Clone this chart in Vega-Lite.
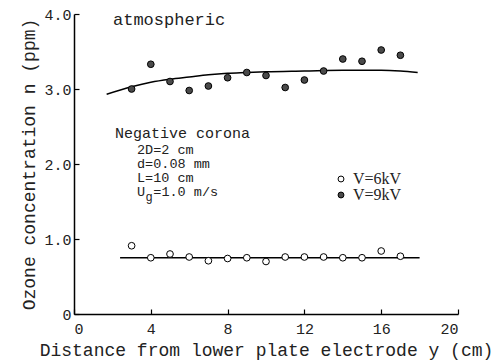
{
  "$schema": "https://vega.github.io/schema/vega-lite/v6.json",
  "width": 384,
  "height": 300,
  "autosize": {"type": "none"},
  "padding": {"left": 74, "top": 14, "right": 40, "bottom": 49},
  "background": "white",
  "config": {
    "view": {"stroke": null},
    "axis": {
      "domainColor": "black",
      "domainWidth": 1.5,
      "tickColor": "black",
      "tickWidth": 1.2,
      "grid": false,
      "labelFont": "Liberation Mono",
      "labelFontSize": 15,
      "labelColor": "#222",
      "titleFont": "Liberation Mono",
      "titleFontSize": 18,
      "titleFontWeight": "normal",
      "titleColor": "#222"
    },
    "text": {"font": "Liberation Mono", "fontSize": 13.5, "color": "#222"}
  },
  "datasets": {
    "pts": [
      {"series": "V=9kV", "x": 3, "y": 3.00},
      {"series": "V=9kV", "x": 4, "y": 3.33},
      {"series": "V=9kV", "x": 5, "y": 3.10},
      {"series": "V=9kV", "x": 6, "y": 2.98},
      {"series": "V=9kV", "x": 7, "y": 3.04},
      {"series": "V=9kV", "x": 8, "y": 3.15},
      {"series": "V=9kV", "x": 9, "y": 3.22},
      {"series": "V=9kV", "x": 10, "y": 3.18},
      {"series": "V=9kV", "x": 11, "y": 3.02},
      {"series": "V=9kV", "x": 12, "y": 3.12},
      {"series": "V=9kV", "x": 13, "y": 3.24},
      {"series": "V=9kV", "x": 14, "y": 3.40},
      {"series": "V=9kV", "x": 15, "y": 3.37},
      {"series": "V=9kV", "x": 16, "y": 3.52},
      {"series": "V=9kV", "x": 17, "y": 3.45},
      {"series": "V=6kV", "x": 3, "y": 0.91},
      {"series": "V=6kV", "x": 4, "y": 0.75},
      {"series": "V=6kV", "x": 5, "y": 0.80},
      {"series": "V=6kV", "x": 6, "y": 0.76},
      {"series": "V=6kV", "x": 7, "y": 0.71},
      {"series": "V=6kV", "x": 8, "y": 0.74},
      {"series": "V=6kV", "x": 9, "y": 0.75},
      {"series": "V=6kV", "x": 10, "y": 0.70},
      {"series": "V=6kV", "x": 11, "y": 0.76},
      {"series": "V=6kV", "x": 12, "y": 0.76},
      {"series": "V=6kV", "x": 13, "y": 0.76},
      {"series": "V=6kV", "x": 14, "y": 0.75},
      {"series": "V=6kV", "x": 15, "y": 0.75},
      {"series": "V=6kV", "x": 16, "y": 0.84},
      {"series": "V=6kV", "x": 17, "y": 0.77}
    ],
    "curves": [
      {"series": "V=9kV", "x": 1.7, "y": 2.93},
      {"series": "V=9kV", "x": 3, "y": 3.03},
      {"series": "V=9kV", "x": 4, "y": 3.09},
      {"series": "V=9kV", "x": 5, "y": 3.13},
      {"series": "V=9kV", "x": 6, "y": 3.16},
      {"series": "V=9kV", "x": 7, "y": 3.19},
      {"series": "V=9kV", "x": 8, "y": 3.21},
      {"series": "V=9kV", "x": 9, "y": 3.22},
      {"series": "V=9kV", "x": 10, "y": 3.23},
      {"series": "V=9kV", "x": 12, "y": 3.24},
      {"series": "V=9kV", "x": 14, "y": 3.25},
      {"series": "V=9kV", "x": 15, "y": 3.25},
      {"series": "V=9kV", "x": 16, "y": 3.25},
      {"series": "V=9kV", "x": 17, "y": 3.24},
      {"series": "V=9kV", "x": 17.9, "y": 3.22},
      {"series": "V=6kV", "x": 2.4, "y": 0.75},
      {"series": "V=6kV", "x": 18.0, "y": 0.75}
    ],
    "big": [
      {"x": 2.03, "y": 3.92, "t": "atmospheric", "s": 17},
      {"x": 2.14, "y": 2.41, "t": "Negative corona", "s": 15}
    ],
    "notes": [
      {"x": 3.28, "y": 2.187, "t": "2D=2 cm"},
      {"x": 3.28, "y": 2.0, "t": "d=0.08 mm"},
      {"x": 3.28, "y": 1.813, "t": "L=10 cm"},
      {"x": 3.28, "y": 1.627, "t": "U"},
      {"x": 4.13, "y": 1.627, "t": "=1.0 m/s"}
    ],
    "subs": [
      {"x": 3.72, "y": 1.627, "t": "g"}
    ]
  },
  "layer": [
    {
      "data": {"name": "curves"},
      "mark": {"type": "line", "color": "black", "strokeWidth": 1.5, "interpolate": "monotone"},
      "encoding": {
        "x": {
          "field": "x", "type": "quantitative",
          "scale": {"domain": [0, 20], "nice": false},
          "axis": {
            "values": [0, 4, 8, 12, 16, 20],
            "tickSize": -5,
            "labelPadding": 12,
            "title": "Distance from lower plate electrode y (cm)",
            "titlePadding": 5
          }
        },
        "y": {
          "field": "y", "type": "quantitative",
          "scale": {"domain": [0, 4], "nice": false},
          "axis": {
            "values": [0, 1, 2, 3, 4],
            "tickSize": -5,
            "labelPadding": 8,
            "labelExpr": "datum.value == 0 ? '0' : format(datum.value, '.1f')",
            "title": "Ozone concentration n (ppm)",
            "titlePadding": 5
          }
        },
        "detail": {"field": "series"}
      }
    },
    {
      "data": {"name": "pts"},
      "mark": {"type": "point", "filled": true, "stroke": "black", "strokeWidth": 1, "size": 45, "opacity": 1},
      "encoding": {
        "x": {"field": "x", "type": "quantitative"},
        "y": {"field": "y", "type": "quantitative"},
        "fill": {
          "field": "series", "type": "nominal",
          "scale": {"domain": ["V=6kV", "V=9kV"], "range": ["white", "#4a4a4a"]},
          "legend": {
            "orient": "none",
            "legendX": 259,
            "legendY": 157,
            "title": null,
            "labelFont": "Liberation Serif",
            "labelFontSize": 16,
            "labelColor": "#222",
            "symbolType": "circle",
            "symbolSize": 35,
            "symbolStrokeColor": "black",
            "symbolStrokeWidth": 1,
            "symbolOpacity": 1,
            "labelOffset": 4,
            "rowPadding": 0
          }
        }
      }
    },
    {
      "data": {"name": "big"},
      "mark": {"type": "text", "align": "left", "baseline": "middle"},
      "encoding": {
        "x": {"field": "x", "type": "quantitative"},
        "y": {"field": "y", "type": "quantitative"},
        "text": {"field": "t"},
        "size": {"field": "s", "type": "quantitative", "scale": null, "legend": null}
      }
    },
    {
      "data": {"name": "notes"},
      "mark": {"type": "text", "align": "left", "baseline": "middle"},
      "encoding": {
        "x": {"field": "x", "type": "quantitative"},
        "y": {"field": "y", "type": "quantitative"},
        "text": {"field": "t"}
      }
    },
    {
      "data": {"name": "subs"},
      "mark": {"type": "text", "align": "left", "baseline": "middle", "dy": 5, "fontSize": 12},
      "encoding": {
        "x": {"field": "x", "type": "quantitative"},
        "y": {"field": "y", "type": "quantitative"},
        "text": {"field": "t"}
      }
    }
  ]
}
